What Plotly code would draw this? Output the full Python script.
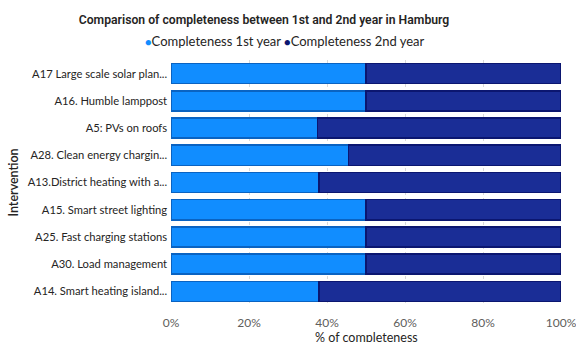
import plotly.graph_objects as go

categories = [
    "A17 Large scale solar plan...",
    "A16. Humble lamppost",
    "A5: PVs on roofs",
    "A28. Clean energy chargin...",
    "A13.District heating with a...",
    "A15. Smart street lighting",
    "A25. Fast charging stations",
    "A30. Load management",
    "A14. Smart heating island...",
]
year1 = [50, 50, 37.5, 45.5, 38, 50, 50, 50, 38]
year2 = [50, 50, 62.5, 54.5, 62, 50, 50, 50, 62]
x_ticks = [0, 20, 40, 60, 80, 100]
x_labels = ["0%", "20%", "40%", "60%", "80%", "100%"]
series_names = ["Completeness 1st year", "Completeness 2nd year"]
series_colors = ["#118DFF", "#1A2D96"]
edge_colors = ["#0A63C2", "#0B1670"]

fig = go.Figure()
for vals, name, col, edge in zip([year1, year2], series_names, series_colors, edge_colors):
    fig.add_trace(go.Bar(
        y=categories, x=vals, orientation="h", name=name, showlegend=False,
        marker=dict(color=col, line=dict(color=edge, width=1.5)),
    ))

legend_text = " ".join(
    f"<span style='color:{c}; font-size:11px'>●</span>{n}" for n, c in zip(series_names, ["#118DFF", "#0B1670"])
)
fig.add_annotation(
    text=legend_text, xref="paper", yref="paper", x=(285 - 171) / 390, y=1 - (41 - 60) / 245.0,
    xanchor="center", yanchor="middle", showarrow=False,
    font=dict(family="Lato, sans-serif", size=13, color="#252423"),
)
# x-axis title (placed as annotation for exact vertical position)
fig.add_annotation(
    text="% of completeness", xref="paper", yref="paper", x=0.5, y=(305 - 337) / 245.0,
    xanchor="center", yanchor="middle", showarrow=False,
    font=dict(family="Lato, sans-serif", size=12.5, color="#252423"),
)

fig.update_layout(
    width=576, height=342,
    barmode="stack", bargap=0.26,
    plot_bgcolor="white", paper_bgcolor="white",
    margin=dict(l=171, r=15, t=60, b=37, autoexpand=False),
    font=dict(family="Lato, sans-serif", color="#252423", size=12),
    title=dict(
        text="Comparison of completeness between 1st and 2nd year in Hamburg",
        x=(264 - 171) / 390, xanchor="center", xref="paper", y=1 - 20 / 342, yanchor="middle",
        font=dict(family="Roboto, sans-serif", size=12.2, color="#252423", weight=600),
    ),
    showlegend=False,
)
fig.update_xaxes(
    range=[0, 100], tickvals=x_ticks, ticktext=x_labels,
    showgrid=True, gridcolor="#D9D9D9", griddash="dot", gridwidth=1,
    zeroline=False, showline=False, automargin=False,
    ticklabeloverflow="allow", ticks="outside", tickcolor="rgba(0,0,0,0)", ticklen=7,
    tickfont=dict(size=12, color="#605E5C"),
)
fig.update_yaxes(
    autorange="reversed", showgrid=False, automargin=False, ticks="",
    title=dict(text="Intervention", standoff=6, font=dict(size=12.5, color="#252423", weight=600)),
    tickfont=dict(size=11.2, color="#252423"), ticksuffix=" ",
)

fig.write_html("out.html", config={"displayModeBar": False},
               post_script="document.body.style.margin='0px';")
